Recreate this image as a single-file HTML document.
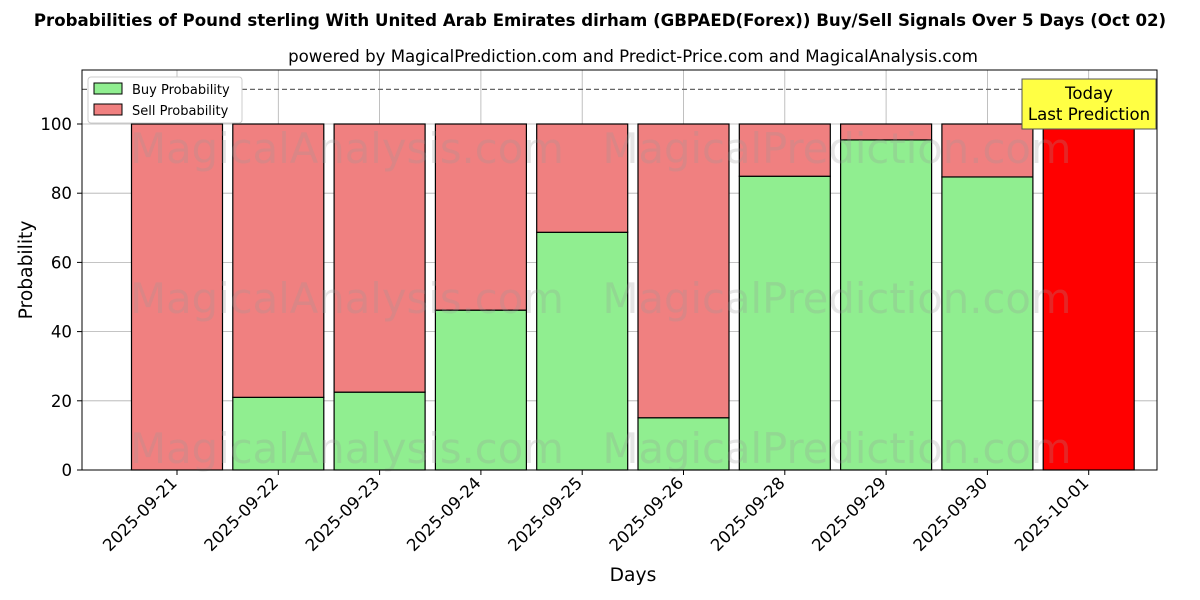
<!DOCTYPE html>
<html><head><meta charset="utf-8"><style>
body{margin:0;background:#fff;}
svg{display:block;font-family:"DejaVu Sans","Liberation Sans",sans-serif;}
</style></head><body>
<svg id="chart" width="1200" height="600" viewBox="0 0 1200 600" xmlns="http://www.w3.org/2000/svg">
<text x="600" y="26" text-anchor="middle" font-size="16.6" font-weight="bold">Probabilities of Pound sterling With United Arab Emirates dirham (GBPAED(Forex)) Buy/Sell Signals Over 5 Days (Oct 02)</text>
<text x="633" y="62" text-anchor="middle" font-size="16.6">powered by MagicalPrediction.com and Predict-Price.com and MagicalAnalysis.com</text>
<g id="grid"></g>
<g id="bars"></g>
<g id="wm" font-size="41.7" fill="#999" fill-opacity="0.25">
<text x="347" y="163" text-anchor="middle">MagicalAnalysis.com</text>
<text x="837" y="163" text-anchor="middle">MagicalPrediction.com</text>
<text x="347" y="313" text-anchor="middle">MagicalAnalysis.com</text>
<text x="837" y="313" text-anchor="middle">MagicalPrediction.com</text>
<text x="347" y="463" text-anchor="middle">MagicalAnalysis.com</text>
<text x="837" y="463" text-anchor="middle">MagicalPrediction.com</text>
</g>
<line id="refline" x1="82" x2="1157" stroke="#666" stroke-dasharray="5,3" stroke-width="1.2"/>
<rect x="82" y="70" width="1075" height="400" fill="none" stroke="#000" stroke-width="1"/>
<g id="axes" font-size="16.6"></g>
<text x="633" y="581" text-anchor="middle" font-size="18.7">Days</text>
<text transform="translate(32,270) rotate(-90)" text-anchor="middle" font-size="18.7">Probability</text>
<g>
<rect x="88" y="77" width="154" height="46" fill="#fff" stroke="#ccc" rx="3"/>
<rect x="94" y="83" width="28" height="11" fill="lightgreen" stroke="#000"/>
<text x="132" y="94" font-size="13">Buy Probability</text>
<rect x="94" y="104" width="28" height="11" fill="lightcoral" stroke="#000"/>
<text x="132" y="115" font-size="13">Sell Probability</text>
</g>
<g>
<rect x="1022" y="79" width="134" height="50" fill="#ffff44" stroke="#555"/>
<text x="1089" y="99" text-anchor="middle" font-size="16.6">Today</text>
<text x="1089" y="120" text-anchor="middle" font-size="16.6">Last Prediction</text>
</g>
</svg>
<script>
const categories=["2025-09-21","2025-09-22","2025-09-23","2025-09-24","2025-09-25","2025-09-26","2025-09-28","2025-09-29","2025-09-30","2025-10-01"];
const buyValues=[0,21,22.5,46.2,68.7,15.1,84.9,95.4,84.7,0];
const sellValues=[100,79,77.5,53.8,31.3,84.9,15.1,4.6,15.3,100];
const yTicks=[0,20,40,60,80,100];
const refValue=110;
const NS="http://www.w3.org/2000/svg";
const xScale=i=>177+i*101.3;
const yScale=v=>470-v*3.46;
const bw=91;
function mk(tag,attrs,parent){const e=document.createElementNS(NS,tag);for(const k in attrs)e.setAttribute(k,attrs[k]);parent.appendChild(e);return e;}
const grid=document.getElementById('grid'),bars=document.getElementById('bars'),axes=document.getElementById('axes');
yTicks.forEach(t=>{const y=yScale(t);
 const g=mk('line',{x1:82,x2:1157,y1:y,y2:y,stroke:'#b0b0b0','stroke-width':0.8},grid);
 
 
 mk('line',{x1:77,x2:82,y1:y,y2:y,stroke:'#000'},axes);
 const tx=mk('text',{x:72,y:y+6,'text-anchor':'end'},axes);tx.textContent=t;
 
 
});
categories.forEach((c,i)=>{const x=xScale(i);
 const g=mk('line',{x1:x,x2:x,y1:70,y2:470,stroke:'#b0b0b0','stroke-width':0.8},grid);
 
 
 mk('line',{x1:x,x2:x,y1:470,y2:475,stroke:'#000'},axes);
 const tx=mk('text',{x:x+1,y:484,'text-anchor':'end',transform:`rotate(-45 ${x+1} 484)`},axes);tx.textContent=c;
 
 
 const last=i===categories.length-1;
 const b=buyValues[i],s=sellValues[i];
 if(b>0){const r=mk('rect',{x:x-bw/2,y:yScale(b),width:bw,height:yScale(0)-yScale(b),fill:'lightgreen',stroke:'#000','stroke-width':1.2},bars);
  
  }
 const r2=mk('rect',{x:x-bw/2,y:yScale(b+s),width:bw,height:yScale(b)-yScale(b+s),fill:last?'red':'lightcoral',stroke:'#000','stroke-width':1.2},bars);
 
 
});
const rl=document.getElementById('refline');rl.setAttribute('y1',yScale(refValue));rl.setAttribute('y2',yScale(refValue));
</script>
</body></html>
